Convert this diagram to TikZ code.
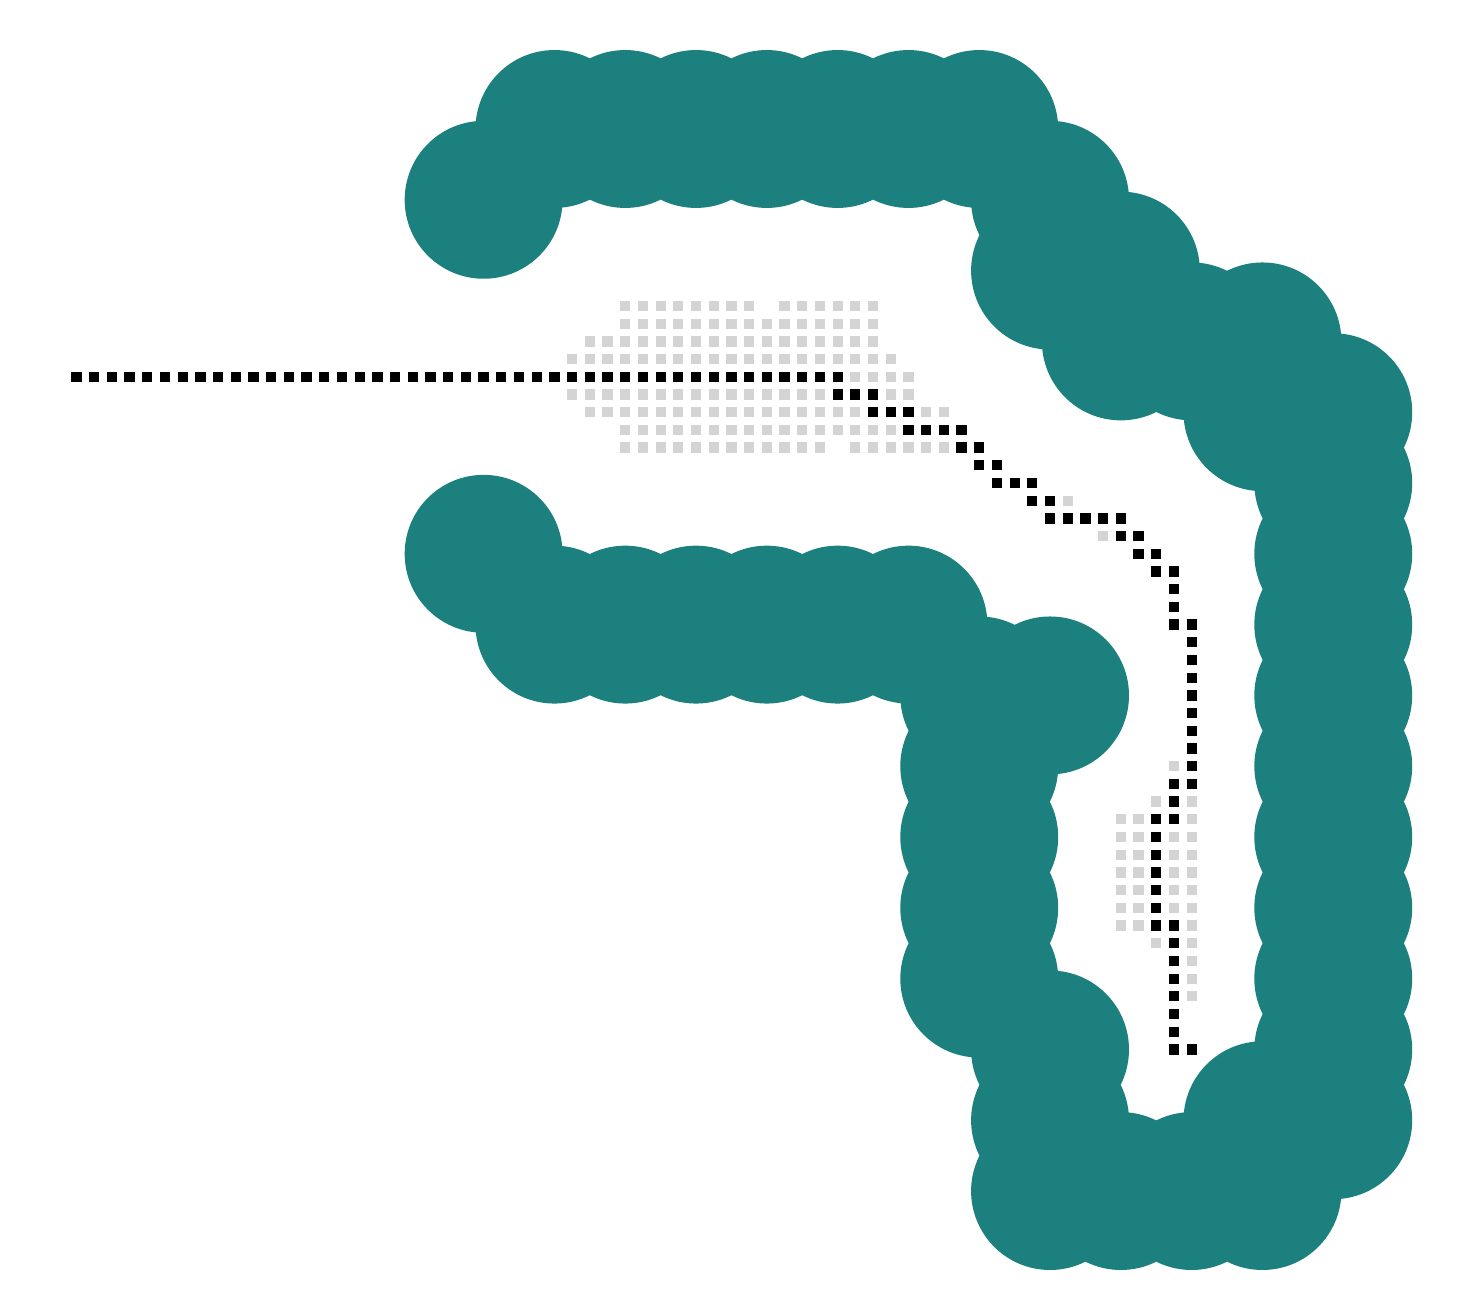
\documentclass[tikz,border=0pt]{standalone}
\usepackage{tikz}
\usetikzlibrary{positioning}
\definecolor{wallteal}{HTML}{1B807E}
\tikzset{
  wall/.style={fill=wallteal},
  seen/.style={fill=black!17},
  route/.style={fill=black}
}
% one grid cell = one unit, rows counted downwards
\newcommand{\cellsq}[3]{\fill[#1] (#2-0.29,#3-0.29) rectangle ++(0.58,0.58);}

\begin{document}
\begin{tikzpicture}[x=0.25cm, y=-0.25cm]
\useasboundingbox (-3.322,-3.288) rectangle (79.16,70.95);
% obstacles
\foreach \i/\j in {24/8,28/4,32/4,36/4,40/4,44/4,48/4,52/4,56/8,56/12,60/12,60/16,64/16,68/16,68/20,72/20,
  72/24,72/28,72/32,72/36,72/40,72/44,72/48,72/52,72/56,72/60,68/60,68/64,64/64,60/64,56/64,56/60,56/56,
  52/52,52/48,52/44,52/40,52/36,56/36,48/32,44/32,40/32,36/32,32/32,28/32,24/28}
  \fill[wall] (\i,\j) circle (4.46);
% explored cells
\foreach \j/\a/\b in {14/32/39,14/41/46,15/32/46,16/30/46,17/29/47,18/45/48,19/29/43,19/47/48,
  20/30/45,20/49/50,21/32/47,22/32/43,22/45/50,43/60/61,44/60/61,45/60/61,46/60/61,47/60/61,48/60/61,49/60/61}
  {\foreach \i in {\a,...,\b} {\cellsq{seen}{\i}{\j}}}
\foreach \i/\j in {57/25,59/27,63/40,62/42,64/42,64/43,63/44,64/44,63/45,64/45,63/46,64/46,63/47,64/47,
  63/48,64/48,64/49,62/50,64/50,64/51,64/52,64/53}
  {\cellsq{seen}{\i}{\j}}
% path found
\foreach \i in {1,...,44} {\cellsq{route}{\i}{18}}
\foreach \i/\j in {44/19,45/19,46/19,46/20,47/20,48/20,48/21,49/21,50/21,51/21,51/22,52/22,52/23,53/23,
  53/24,54/24,55/24,55/25,56/25,56/26,57/26,58/26,59/26,60/26,60/27,61/27,61/28,62/28,62/29,63/29,
  63/30,63/31,63/32,64/32,64/33,64/34,64/35,64/36,64/37,64/38,64/39,64/40,64/41,63/41,63/42,63/43,62/43,
  62/44,62/45,62/46,62/47,62/48,62/49,63/49,63/50,63/51,63/52,63/53,63/54,63/55,63/56,64/56}
  {\cellsq{route}{\i}{\j}}
\end{tikzpicture}
\end{document}
